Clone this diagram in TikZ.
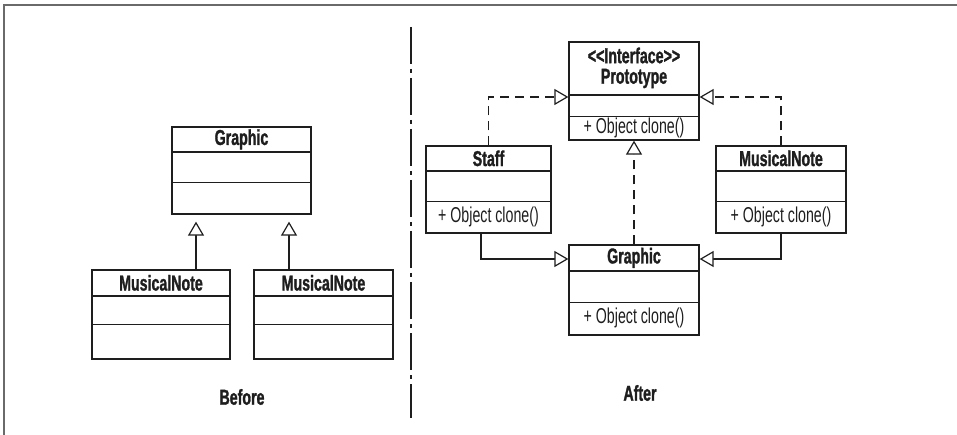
\documentclass[tikz,border=0pt]{standalone}
\usepackage{fontspec}
\setmainfont{Liberation Sans}[FakeStretch=0.66, Ligatures=TeXOff, BoldFeatures={FakeBold=1.3}]
\usetikzlibrary{arrows.meta,calc}
\definecolor{ink}{HTML}{1E1E1E}
\definecolor{frame}{HTML}{6A6A6A}
\begin{document}
\begin{tikzpicture}[x=1pt,y=-1pt,
  every node/.style={font=\fontsize{21.5}{22}\selectfont, text=ink, inner sep=0pt},
  classbox/.style={draw=ink, line width=1.3pt, rectangle, fill=none},
  hdrline/.style={draw=ink, line width=1.8pt},
  secline/.style={draw=ink, line width=1.2pt},
  cname/.style={font=\fontsize{21.5}{20.5}\selectfont\bfseries},
  meth/.style={font=\fontsize{21.5}{22}\selectfont},
  tri/.style={-{Triangle[length=14pt,width=16pt,fill=white,line width=1.2pt]}},
  inh/.style={draw=ink, line width=1.2pt, tri},
  real/.style={draw=ink, line width=1.2pt, tri, dash pattern=on 9pt off 6pt},
  divider/.style={draw=ink, line width=1.2pt, dash pattern=on 37pt off 5pt on 4pt off 5pt}
]
\useasboundingbox (0,0) rectangle (957,435);
% frame
\draw[frame, line width=1.6pt] (4,435) -- (4,5) -- (957,5);

% divider
\coordinate (dtop) at (411,27);
\coordinate (dbot) at (411,418);
\draw[divider] (dtop) -- (dbot);

% ---------- Before ----------
\node[classbox, minimum width=139pt, minimum height=87pt] (bg) at (241.5,170.5) {};
\draw[hdrline] ([yshift=-26pt]bg.north west) -- ([yshift=-26pt]bg.north east);
\draw[secline] ([yshift=-56pt]bg.north west) -- ([yshift=-56pt]bg.north east);
\node[cname] (bgt) at ([yshift=-13pt]bg.north) {Graphic};

\node[classbox, minimum width=138pt, minimum height=89pt] (mn1) at (161,314.5) {};
\draw[hdrline] ([yshift=-27pt]mn1.north west) -- ([yshift=-27pt]mn1.north east);
\draw[secline] ([yshift=-55pt]mn1.north west) -- ([yshift=-55pt]mn1.north east);
\node[cname] (mn1t) at ([yshift=-13.5pt]mn1.north) {MusicalNote};

\node[classbox, minimum width=139pt, minimum height=89pt] (mn2) at (323.5,314.5) {};
\draw[hdrline] ([yshift=-27pt]mn2.north west) -- ([yshift=-27pt]mn2.north east);
\draw[secline] ([yshift=-55pt]mn2.north west) -- ([yshift=-55pt]mn2.north east);
\node[cname] (mn2t) at ([yshift=-13.5pt]mn2.north) {MusicalNote};

\draw[inh, shorten >=7pt] ([xshift=35pt]mn1.north) -- ([xshift=-45.5pt]bg.south);
\draw[inh, shorten >=7pt] ([xshift=-34.5pt]mn2.north) -- ([xshift=47.5pt]bg.south);

\node[cname] (before) at (242,397) {Before};

% ---------- After ----------
\node[classbox, minimum width=130pt, minimum height=98pt] (proto) at (634,91) {};
\draw[hdrline] ([yshift=-54pt]proto.north west) -- ([yshift=-54pt]proto.north east);
\draw[secline] ([yshift=-75pt]proto.north west) -- ([yshift=-75pt]proto.north east);
\node[cname, align=center] (protot) at ([yshift=-26.5pt]proto.north) {<<Interface>>\\Prototype};
\node[meth] (protom) at ([yshift=-87pt]proto.north) {+ Object clone()};

\node[classbox, minimum width=125pt, minimum height=87pt] (staff) at (488.5,189.5) {};
\draw[hdrline] ([yshift=-26pt]staff.north west) -- ([yshift=-26pt]staff.north east);
\draw[secline] ([yshift=-56pt]staff.north west) -- ([yshift=-56pt]staff.north east);
\node[cname] (stafft) at ([yshift=-13pt]staff.north) {Staff};
\node[meth] (staffm) at ([yshift=-71.5pt]staff.north) {+ Object clone()};

\node[classbox, minimum width=130pt, minimum height=87pt] (mna) at (781,189.5) {};
\draw[hdrline] ([yshift=-26pt]mna.north west) -- ([yshift=-26pt]mna.north east);
\draw[secline] ([yshift=-56pt]mna.north west) -- ([yshift=-56pt]mna.north east);
\node[cname] (mnat) at ([yshift=-13pt]mna.north) {MusicalNote};
\node[meth] (mnam) at ([yshift=-71.5pt]mna.north) {+ Object clone()};

\node[classbox, minimum width=130pt, minimum height=90pt] (ga) at (634,290) {};
\draw[hdrline] ([yshift=-27pt]ga.north west) -- ([yshift=-27pt]ga.north east);
\draw[secline] ([yshift=-58pt]ga.north west) -- ([yshift=-58pt]ga.north east);
\node[cname] (gat) at ([yshift=-13.5pt]ga.north) {Graphic};
\node[meth] (gam) at ([yshift=-74pt]ga.north) {+ Object clone()};

% realizations (dashed)
\draw[real] (staff.north) |- ([yshift=-6pt]proto.west);
\draw[real] (mna.north) |- ([yshift=-6pt]proto.east);
\draw[real] (ga.north) -- (proto.south);
% generalizations (solid)
\draw[inh] ([xshift=-7.5pt]staff.south) |- ([yshift=31pt]ga.west);
\draw[inh] (mna.south) |- ([yshift=31pt]ga.east);

\node[cname] (after) at (640,393) {After};
\end{tikzpicture}
\end{document}
